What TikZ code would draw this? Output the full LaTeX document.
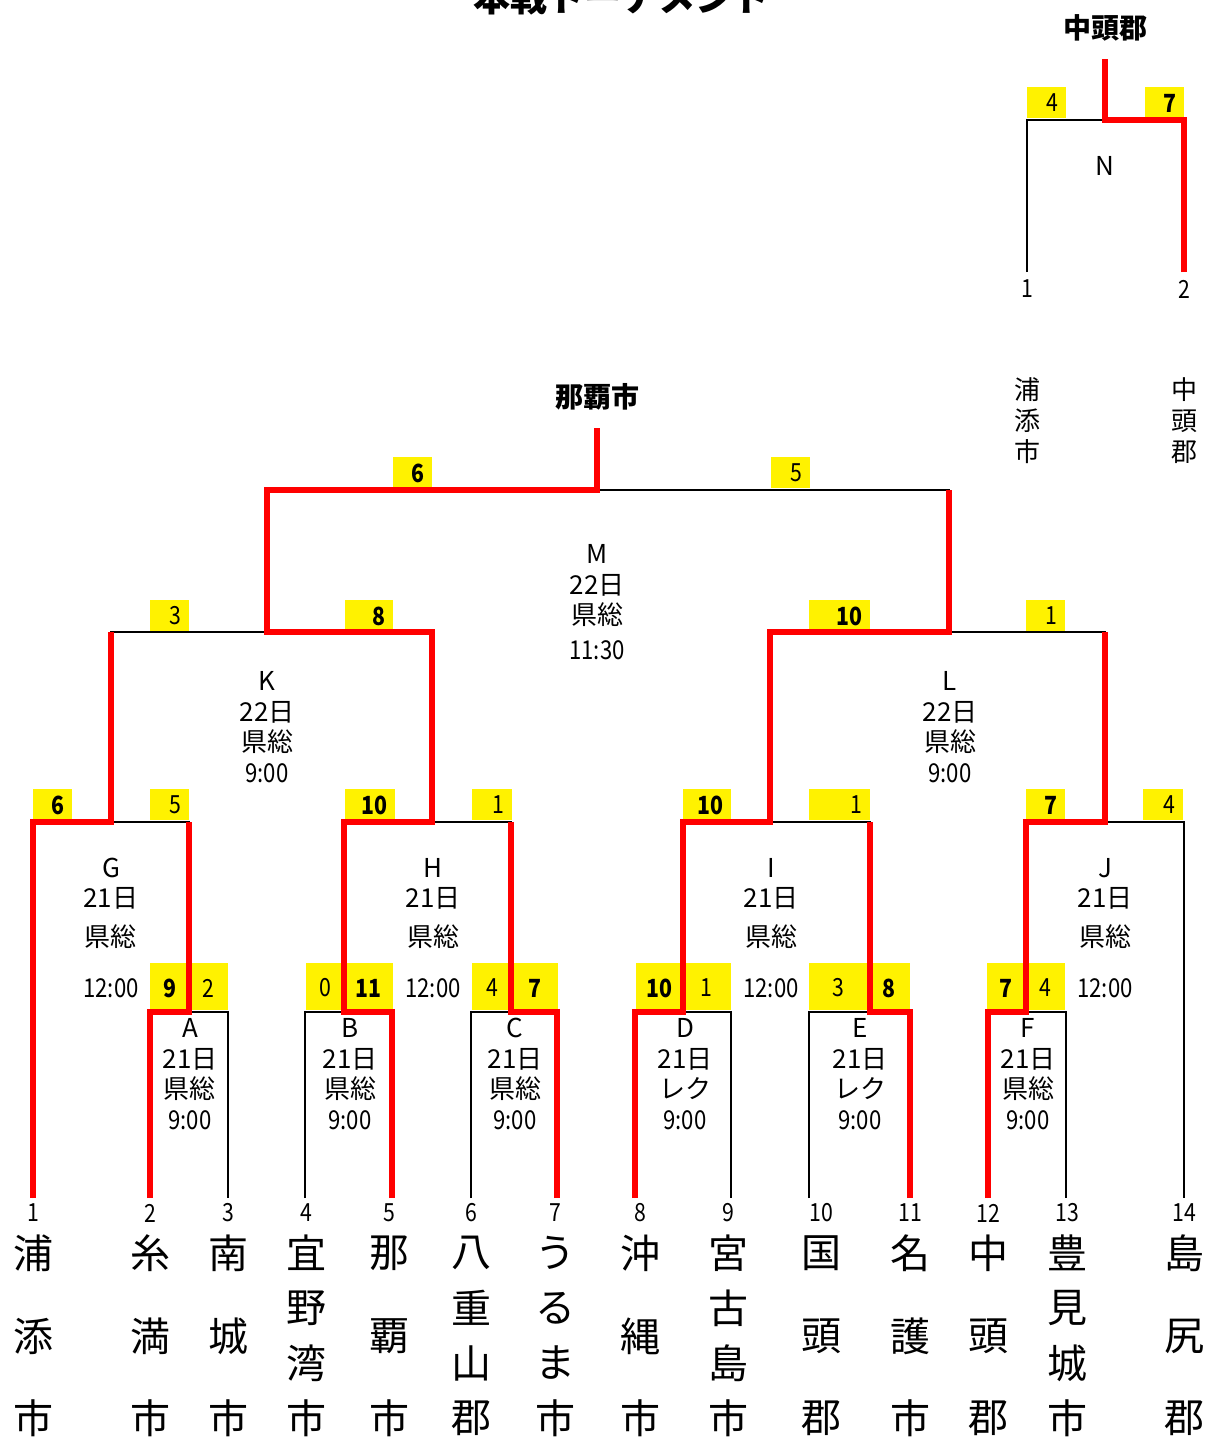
\documentclass[tikz,border=0pt]{standalone}
\usepackage{fontspec}
\setmainfont{Noto Sans CJK JP}
\newfontfamily\numfont[FakeStretch=0.85]{Noto Sans CJK JP}
\tikzset{
  bracket/.style={line width=1pt},
  winline/.style={line width=3pt, red},
  num/.style={font=\numfont\fontsize{12.5}{14}\selectfont, inner sep=0pt},
  info/.style={font=\fontsize{13}{15.25}\selectfont, align=center, inner sep=0pt},
  city/.style={font=\fontsize{20}{22}\selectfont, inner sep=0pt},
  head/.style={font=\bfseries\fontsize{14}{16}\selectfont, inner sep=0pt},
}
% score above a bar: name, x1, x2, bottom, text
\newcommand{\topscore}[5]{
  \fill[yellow] (#2,#4-31) rectangle (#3,#4);
  \node[num, anchor=east] (#1) at (#3-7,#4-15) {#5};
}
% score of a first round match
\newcommand{\lowscore}[5]{
  \fill[yellow] (#2,#4-47) rectangle (#3,#4);
  \node[num] (#1) at ({(#2+#3)/2},#4-22) {#5};
}
\begin{document}
\begin{tikzpicture}[x=0.5pt,y=-0.5pt]
\useasboundingbox (0,0) rectangle (1206,1437);

\node[head, font=\bfseries\fontsize{18.5}{20}\selectfont] (title) at (621,-3) {本戦トーナメント};

% leaves
\foreach \n/\lx/\tx in {1/33/33, 2/150/150, 3/228/228, 4/305/306, 5/392/389, 6/471/471, 7/557/555,
    8/635/640, 9/731/728, 10/809/821, 11/910/910, 12/988/988, 13/1066/1067, 14/1184/1184} {
  \coordinate (l\n) at (\lx,1198);
  \node[num] (num\n) at (\tx,1213) {\n};
}
\foreach \n/\x/\a/\b/\c in {1/33/浦/添/市, 2/150/糸/満/市, 3/228/南/城/市, 5/389/那/覇/市,
    8/640/沖/縄/市, 10/821/国/頭/郡, 11/910/名/護/市, 12/988/中/頭/郡, 14/1184/島/尻/郡} {
  \node[city] (city\n a) at (\x,1253) {\a};
  \node[city] (city\n b) at (\x,1336) {\b};
  \node[city] (city\n c) at (\x,1418) {\c};
}
\foreach \n/\x/\a/\b/\c/\d in {4/306/宜/野/湾/市, 6/471/八/重/山/郡, 7/555/う/る/ま/市,
    9/728/宮/古/島/市, 13/1067/豊/見/城/市} {
  \node[city] (city\n a) at (\x,1253) {\a};
  \node[city] (city\n b) at (\x,1308) {\b};
  \node[city] (city\n c) at (\x,1363) {\c};
  \node[city] (city\n d) at (\x,1418) {\d};
}

% match points
\coordinate (A) at (189,1012);
\coordinate (B) at (344,1012);
\coordinate (C) at (511,1012);
\coordinate (D) at (683,1012);
\coordinate (E) at (870,1012);
\coordinate (F) at (1026,1012);
\coordinate (G) at (111,822);
\coordinate (H) at (432,822);
\coordinate (I) at (770,822);
\coordinate (J) at (1105,822);
\coordinate (K) at (267,632);
\coordinate (L) at (949,632);
\coordinate (M) at (597,490);
\coordinate (Mtop) at (597,428);
\coordinate (n1) at (1027,272);
\coordinate (n2) at (1184,272);
\coordinate (N) at (1105,120);
\coordinate (Ntop) at (1105,59);

% scores
\topscore{sG1}{33}{72}{820}{\textbf{6}}
\topscore{sG2}{150}{189}{820}{5}
\topscore{sH1}{345}{395}{820}{\textbf{10}}
\topscore{sH2}{472}{512}{820}{1}
\topscore{sI1}{683}{731}{820}{\textbf{10}}
\topscore{sI2}{809}{870}{820}{1}
\topscore{sJ1}{1026}{1065}{820}{\textbf{7}}
\topscore{sJ2}{1143}{1183}{820}{4}
\topscore{sK1}{150}{189}{631}{3}
\topscore{sK2}{345}{393}{631}{\textbf{8}}
\topscore{sL1}{809}{870}{631}{\textbf{10}}
\topscore{sL2}{1026}{1065}{631}{1}
\topscore{sM1}{393}{432}{488}{\textbf{6}}
\topscore{sM2}{771}{810}{488}{5}
\topscore{sN1}{1027}{1066}{118}{4}
\topscore{sN2}{1145}{1184}{118}{\textbf{7}}
\lowscore{sA1}{150}{189}{1010}{\textbf{9}}
\lowscore{sA2}{189}{228}{1010}{2}
\lowscore{sB1}{306}{344}{1010}{0}
\lowscore{sB2}{344}{393}{1010}{\textbf{11}}
\lowscore{sC1}{472}{512}{1010}{4}
\lowscore{sC2}{512}{558}{1010}{\textbf{7}}
\lowscore{sD1}{636}{682}{1010}{\textbf{10}}
\lowscore{sD2}{682}{731}{1010}{1}
\lowscore{sE1}{809}{868}{1010}{3}
\lowscore{sE2}{868}{910}{1010}{\textbf{8}}
\lowscore{sF1}{987}{1025}{1010}{\textbf{7}}
\lowscore{sF2}{1025}{1065}{1010}{4}

% bracket
\draw[bracket] (l2) |- (A) -| (l3);
\draw[bracket] (l4) |- (B) -| (l5);
\draw[bracket] (l6) |- (C) -| (l7);
\draw[bracket] (l8) |- (D) -| (l9);
\draw[bracket] (l10) |- (E) -| (l11);
\draw[bracket] (l12) |- (F) -| (l13);
\draw[bracket] (l1) |- (G) -| (A);
\draw[bracket] (B) |- (H) -| (C);
\draw[bracket] (D) |- (I) -| (E);
\draw[bracket] (F) |- (J) -| (l14);
\draw[bracket] (G) |- (K) -| (H);
\draw[bracket] (I) |- (L) -| (J);
\draw[bracket] (K) |- (M) -| (L);
\draw[bracket] (n1) |- (N) -| (n2);

% winners
\draw[winline] (l1) |- (G) -- (G |- K);
\draw[winline] (l2) |- (A) -- (A |- G);
\draw[winline] (l5) |- (B) |- (H) -- (H |- K) -- (K) -- (K |- M) -- (M) -- (Mtop);
\draw[winline] (l7) |- (C) -- (C |- H);
\draw[winline] (l8) |- (D) |- (I) -- (I |- L) -- (L) -- (L |- M);
\draw[winline] (l11) |- (E) -- (E |- I);
\draw[winline] (l12) |- (F) |- (J) -- (J |- L);
\draw[winline] (n2) |- (N) -- (Ntop);

% match info
\node[info] (infoA) at (190,1074) {A\\21日\\県総\\{\numfont 9:00}};
\node[info] (infoB) at (350,1074) {B\\21日\\県総\\{\numfont 9:00}};
\node[info] (infoC) at (515,1074) {C\\21日\\県総\\{\numfont 9:00}};
\node[info] (infoD) at (685,1074) {D\\21日\\レク\\{\numfont 9:00}};
\node[info] (infoE) at (860,1074) {E\\21日\\レク\\{\numfont 9:00}};
\node[info] (infoF) at (1028,1074) {F\\21日\\県総\\{\numfont 9:00}};
\foreach \m/\x in {G/111, H/433, I/771, J/1105} {
  \node[info] (info\m) at (\x,903) {\m\\21日\\[4pt]県総};
  \node[num, font=\numfont\fontsize{13}{15}\selectfont] (time\m) at (\x,988) {12:00};
}
\node[info] (infoK) at (267,727) {K\\22日\\県総\\{\numfont 9:00}};
\node[info] (infoL) at (950,727) {L\\22日\\県総\\{\numfont 9:00}};
\node[info] (infoM) at (597,602) {M\\22日\\県総\\[2pt]{\numfont 11:30}};
\node[info] (infoN) at (1105,166) {N};

% final of the two
\node[num] (nnum1) at (1027,289) {1};
\node[num] (nnum2) at (1184,289) {2};
\node[info, font=\fontsize{13}{15.5}\selectfont] (nname1) at (1027,421) {浦\\添\\市};
\node[info, font=\fontsize{13}{15.5}\selectfont] (nname2) at (1184,421) {中\\頭\\郡};

\node[head] (winM) at (597,397) {那覇市};
\node[head] (winN) at (1105,28) {中頭郡};
\end{tikzpicture}
\end{document}
